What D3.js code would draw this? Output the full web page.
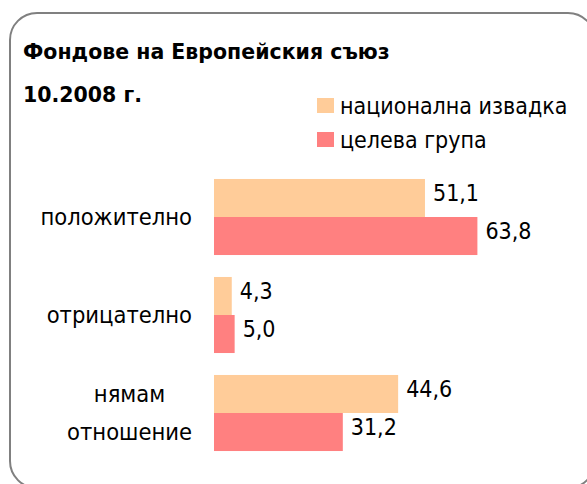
<!DOCTYPE html>
<html>
<head>
<meta charset="utf-8">
<script src="https://cdn.jsdelivr.net/npm/d3@7"></script>
<style>
  body { margin: 0; background: #fff; }
  text { font-family: "DejaVu Sans Condensed", "DejaVu Sans", sans-serif; font-stretch: condensed; fill: #000; }
  text.title { font-family: "DejaVu Sans", sans-serif; font-stretch: normal; }
</style>
</head>
<body>
<div id="chart"></div>
<script>
// data
var categories = ["положително", "отрицателно", "нямам\nотношение"];
var seriesNames = ["национална извадка", "целева група"];
var national = [51.1, 4.3, 44.6];
var target = [63.8, 5.0, 31.2];
var colors = ["#FFCC99", "#FF8080"];
var titleLines = ["Фондове на Европейския съюз", "10.2008 г."];

var svgWidth = 587;
var svgHeight = 484;

var svg = d3.select("#chart").append("svg")
  .attr("width", svgWidth)
  .attr("height", svgHeight);

// frame
svg.append("rect")
  .attr("x", 10)
  .attr("y", 13)
  .attr("width", 585)
  .attr("height", 475)
  .attr("rx", 27)
  .attr("fill", "#fff")
  .attr("stroke", "#808080")
  .attr("stroke-width", 2);

// title
svg.selectAll(".title")
  .data(titleLines)
  .enter()
  .append("text")
  .attr("class", "title")
  .attr("x", 23)
  .attr("y", function(d, i) { return 59 + i * 43; })
  .style("font-weight", "bold")
  .style("font-size", "20.5px")
  .text(function(d) { return d; });

// legend
var legend = svg.selectAll(".legend")
  .data(seriesNames)
  .enter()
  .append("g")
  .attr("class", "legend")
  .attr("transform", function(d, i) { return `translate(317, ${98 + i * 34})`; });

legend.append("rect")
  .attr("width", 17)
  .attr("height", 15)
  .attr("fill", function(d, i) { return colors[i]; });

legend.append("text")
  .attr("x", 23)
  .attr("y", 8)
  .attr("dominant-baseline", "central")
  .style("font-size", "23px")
  .text(function(d) { return d; });

// scales
var y = d3.scaleBand()
  .domain(categories)
  .range([168, 462])
  .paddingInner(0.224)
  .paddingOuter(0.112);

var ySub = d3.scaleBand()
  .domain(seriesNames)
  .range([0, y.bandwidth()]);

var x = d3.scaleLinear()
  .domain([0, 70])
  .range([214, 503]);

var rows = categories.map(function(c, i) {
  return { cat: c, values: [national[i], target[i]] };
});

var groups = svg.selectAll(".group")
  .data(rows)
  .enter()
  .append("g")
  .attr("class", "group")
  .attr("transform", function(d) { return `translate(0, ${y(d.cat)})`; });

groups.selectAll("rect")
  .data(function(d) { return d.values.map(function(v, j) { return { s: seriesNames[j], v: v, j: j }; }); })
  .enter()
  .append("rect")
  .attr("x", x(0))
  .attr("y", function(d) { return ySub(d.s); })
  .attr("width", function(d) { return x(d.v) - x(0); })
  .attr("height", ySub.bandwidth())
  .attr("fill", function(d) { return colors[d.j]; });

groups.selectAll(".val")
  .data(function(d) { return d.values.map(function(v, j) { return { s: seriesNames[j], v: v }; }); })
  .enter()
  .append("text")
  .attr("class", "val")
  .attr("x", function(d) { return x(d.v) + 8; })
  .attr("y", function(d) { return ySub(d.s) + ySub.bandwidth() / 2 - 5; })
  .attr("dominant-baseline", "central")
  .style("font-size", "23px")
  .text(function(d) { return d.v.toFixed(1).replace(".", ","); });

// category labels, right aligned, multi-line centered
var labelRight = 192;
var lineGap = 38;
svg.selectAll(".cat")
  .data(categories)
  .enter()
  .append("text")
  .attr("class", "cat")
  .style("font-size", "23.5px")
  .attr("text-anchor", "middle")
  .attr("dominant-baseline", "central")
  .each(function(d) {
    var t = d3.select(this);
    var lines = d.split("\n");
    var cy = y(d) + y.bandwidth() / 2;
    lines.forEach(function(line, k) {
      t.append("tspan")
        .attr("y", cy + (k - (lines.length - 1) / 2) * lineGap)
        .text(line);
    });
    var maxW = 0;
    t.selectAll("tspan").each(function() {
      maxW = Math.max(maxW, this.getComputedTextLength());
    });
    t.selectAll("tspan").attr("x", labelRight - maxW / 2);
  });
</script>
</body>
</html>
